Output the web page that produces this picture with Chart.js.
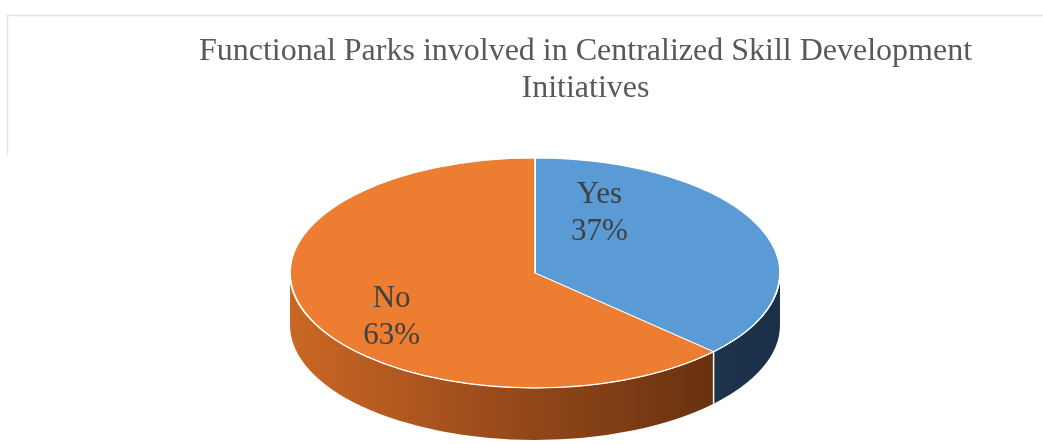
<!DOCTYPE html>
<html><head><meta charset="utf-8">
<script src="https://cdn.jsdelivr.net/npm/chart.js@4"></script>
<style>html,body{margin:0;padding:0;background:#fff}#wrap{width:1043px;height:444px}</style>
</head><body><div id="wrap"><canvas id="c" width="1043" height="444"></canvas></div>
<script>
const categories = ['Yes', 'No'];
const values = [37, 63];
const titleLines = ['Functional Parks involved in Centralized Skill Development', 'Initiatives'];

const topColors = ['#5B9BD5', '#ED7D31'];
const sideStops = [
  [[0, '#27476A'], [1, '#1B3048']],
  [[0, '#CA6724'], [0.45, '#97491A'], [1, '#592A0C']]
];
const ELLIPSE = {cx: 535, cy: 273, rx: 245, ry: 115, depth: 52};
const LABEL_SHIFT = [[-48, -38], [-31, 20]];
const SERIF = '"Liberation Serif", "Times New Roman", serif';

function sidePath(ctx, a, b) {
  const E = ELLIPSE;
  ctx.beginPath();
  ctx.ellipse(E.cx, E.cy, E.rx, E.ry, 0, a, b, false);
  ctx.ellipse(E.cx, E.cy + E.depth, E.rx, E.ry, 0, b, a, true);
  ctx.closePath();
}

const pie3d = {
  id: 'pie3d',
  beforeDraw(chart) {
    const ctx = chart.ctx;
    ctx.save();
    ctx.strokeStyle = '#e4e4e4';
    ctx.lineWidth = 1.5;
    ctx.beginPath();
    ctx.moveTo(7, 15.5); ctx.lineTo(1043, 15.5);
    ctx.moveTo(7.5, 15); ctx.lineTo(7.5, 155);
    ctx.stroke();
    ctx.restore();
  },
  beforeDatasetsDraw(chart) {
    const ctx = chart.ctx, E = ELLIPSE;
    const meta = chart.getDatasetMeta(0);
    const bounds = [];
    meta.data.forEach((arc, i) => {
      const p = arc.getProps(['startAngle', 'endAngle'], true);
      for (const k of [-2, 0, 2]) {
        const a = Math.max(p.startAngle + k * Math.PI, 0);
        const b = Math.min(p.endAngle + k * Math.PI, Math.PI);
        if (b > a) {
          sidePath(ctx, a, b);
          const g = ctx.createLinearGradient(E.cx - E.rx, 0, E.cx + E.rx, 0);
          sideStops[i].forEach(s => g.addColorStop(s[0], s[1]));
          ctx.fillStyle = g;
          ctx.fill();
        }
        const s = p.startAngle + k * Math.PI;
        if (s > 0 && s < Math.PI) bounds.push(s);
      }
    });
    ctx.save();
    ctx.strokeStyle = '#ffffff';
    ctx.lineWidth = 1.5;
    bounds.forEach(t => {
      const x = E.cx + E.rx * Math.cos(t), y = E.cy + E.ry * Math.sin(t);
      ctx.beginPath(); ctx.moveTo(x, y); ctx.lineTo(x, y + E.depth); ctx.stroke();
    });
    ctx.restore();
    const a0 = meta.data[0].getProps(['x', 'y', 'outerRadius'], true);
    ctx.save();
    ctx.translate(E.cx, E.cy);
    ctx.scale(E.rx / a0.outerRadius, E.ry / a0.outerRadius);
    ctx.translate(-a0.x, -a0.y);
  },
  afterDatasetsDraw(chart) {
    const ctx = chart.ctx, E = ELLIPSE;
    ctx.restore();
    ctx.save();
    ctx.strokeStyle = 'rgba(255,255,255,0.9)';
    ctx.lineWidth = 1.2;
    ctx.beginPath();
    ctx.ellipse(E.cx, E.cy, E.rx, E.ry, 0, 0, Math.PI, false);
    ctx.stroke();
    const meta = chart.getDatasetMeta(0);
    const total = values.reduce((s, v) => s + v, 0);
    ctx.font = '31px ' + SERIF;
    ctx.fillStyle = '#404040';
    ctx.textAlign = 'center';
    ctx.textBaseline = 'alphabetic';
    meta.data.forEach((arc, i) => {
      const p = arc.getProps(['startAngle', 'endAngle'], true);
      const mid = (p.startAngle + p.endAngle) / 2;
      const px = E.cx + E.rx * 0.5 * Math.cos(mid) + LABEL_SHIFT[i][0];
      const py = E.cy + E.ry * 0.5 * Math.sin(mid) + LABEL_SHIFT[i][1];
      const pct = Math.round(values[i] / total * 100) + '%';
      ctx.fillText(categories[i], px, py - 9);
      ctx.fillText(pct, px, py + 28);
    });
    ctx.restore();
  }
};

new Chart(document.getElementById('c'), {
  type: 'pie',
  data: {
    labels: categories,
    datasets: [{
      data: values,
      backgroundColor: topColors,
      borderColor: '#ffffff',
      borderWidth: 1.2
    }]
  },
  options: {
    responsive: false,
    animation: false,
    events: [],
    layout: {padding: {left: 128, top: 12}},
    plugins: {
      legend: {display: false},
      tooltip: {enabled: false},
      title: {
        display: true,
        text: titleLines,
        color: '#595959',
        font: {family: SERIF, size: 32, weight: 'normal', lineHeight: 1.16},
        padding: {top: 21, bottom: 10}
      }
    }
  },
  plugins: [pie3d]
});
</script>
</body></html>
